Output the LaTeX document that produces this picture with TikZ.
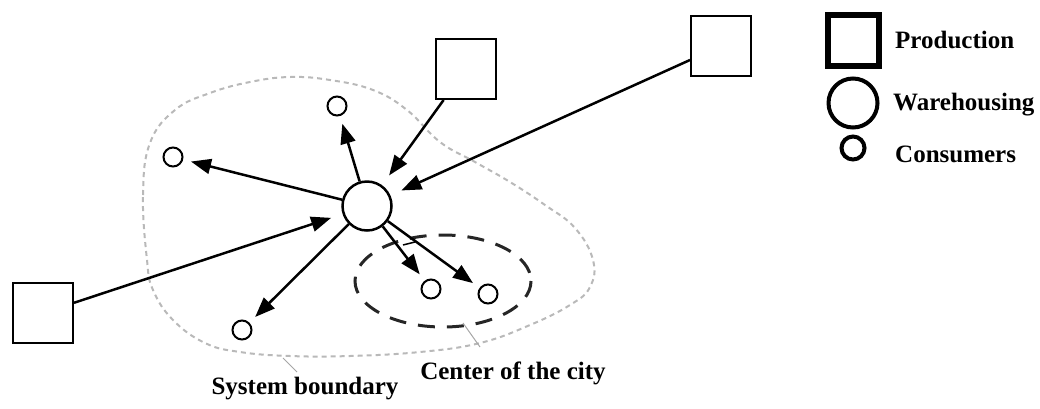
\documentclass[tikz,border=0pt]{standalone}
\usepackage{fontspec}
\setmainfont{Liberation Serif}
\usetikzlibrary{arrows.meta}

\begin{document}
\begin{tikzpicture}[x=1pt,y=-1pt,>={Triangle[length=20pt,width=15pt]},
    production/.style={draw,line width=2pt,minimum size=60pt,inner sep=0pt},
    warehouse/.style={draw,circle,line width=2.5pt,minimum size=49pt,inner sep=0pt},
    consumer/.style={draw,circle,line width=2pt,minimum size=19pt,inner sep=0pt},
    flow/.style={->,line width=2.5pt},
    tag/.style={font=\fontsize{25}{30}\selectfont\bfseries,inner sep=0pt},
    boundary/.style={gray!55,line width=2pt,dash pattern=on 5pt off 4pt},
    city/.style={black!85,line width=3pt,dash pattern=on 17pt off 12pt},
    leader/.style={gray!70,line width=1pt}]
    \useasboundingbox (0,0) rectangle (1040,408);
    % boundaries
    \draw[boundary] plot[smooth cycle,tension=0.7] coordinates {(147,260) (143,195) (150,143)
        (175,110) (210,93) (250,82) (290,77) (330,80) (373,90) (407,110) (440,142) (475,162)
        (510,182) (545,205) (575,228) (593,260) (590,287) (570,305) (530,325) (480,343)
        (420,352) (350,356) (290,356) (240,352) (205,343) (173,320) (153,290)};
    \draw[city] (443,281) ellipse [x radius=88,y radius=46];
    \draw[leader] (283,358) -- (297,372);
    \draw[leader] (463,323) -- (480,347);
    % nodes
    \node[warehouse] (w)   at (367,206) {};
    \node[production] (p_1) at (466,69)  {};
    \node[production] (p_2) at (721,46)  {};
    \node[production] (p_3) at (43,313)  {};
    \node[consumer] (c_1)  at (337,106) {};
    \node[consumer] (c_2)  at (173,157) {};
    \node[consumer] (c_3)  at (242,330) {};
    \node[consumer] (c_4)  at (431,289) {};
    \node[consumer] (c_5)  at (488,294) {};
    % incoming edges
    \path[flow,shorten >=12pt]
    (p_1) edge (w)
    (p_2) edge (w)
    (p_3) edge (w);
    % outgoing edges
    \path[flow,shorten >=8pt]
    (w) edge (c_1)
    (w) edge (c_2)
    (w) edge (c_3)
    (w) edge (c_4)
    (w) edge (c_5);
    \draw[line width=1.5pt] (403,245) -- (415,242);
    % texts
    \node[tag,anchor=base] at (305,394) {System boundary};
    \node[tag,anchor=base] at (513,379) {Center of the city};
    % legend
    \node[production,line width=6pt,minimum size=51pt] (l_p) at (853,40)  {};
    \node[warehouse,line width=4pt]                    (l_w) at (853,103) {};
    \node[consumer,line width=4pt,minimum size=23pt]   (l_c) at (853,148) {};
    \node[tag,anchor=base west] at (895,48)  {Production};
    \node[tag,anchor=base west] at (893,110) {Warehousing};
    \node[tag,anchor=base west] at (895,162) {Consumers};
\end{tikzpicture}
\end{document}
